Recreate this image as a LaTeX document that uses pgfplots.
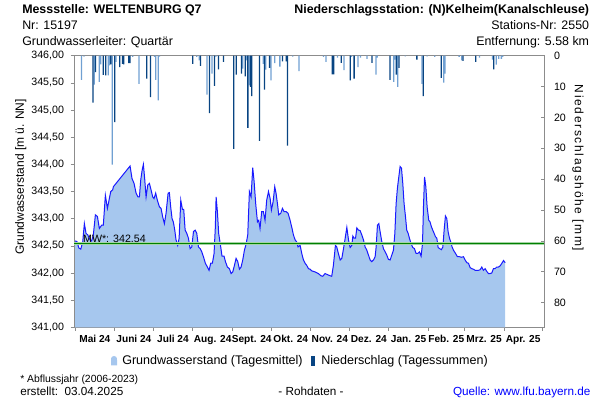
\documentclass[border=0pt]{standalone}
\usepackage{pgfplots}
\usepackage{pgfplotstable}
\pgfplotsset{compat=1.18}
\usepackage{fontspec}
\setmainfont{Liberation Sans}
\definecolor{areacol}{RGB}{166,199,238}
\definecolor{linecol}{RGB}{25,25,255}
\definecolor{darkbar}{RGB}{8,68,130}
\definecolor{lightbar}{RGB}{112,160,210}
\definecolor{axgray}{RGB}{140,140,140}
\definecolor{mwgreen}{RGB}{0,128,0}
\definecolor{mwhalo}{RGB}{165,212,165}
\definecolor{linkblue}{RGB}{0,0,255}

\pgfplotstableread{
day gw
0 342.59
1.5 342.58
3 342.46
4.5 342.44
6 342.57
7.3 342.91
8.6 342.73
10 342.70
11.7 342.61
13 342.59
14.3 342.70
15.9 343.07
17.5 343.04
19 342.82
20.8 342.88
22.1 342.88
23.7 343.43
25.3 343.19
26.8 343.37
27.9 343.50
29.4 343.53
30 343.59
43 343.97
44.5 343.74
46.1 343.65
47.7 343.47
49.2 343.40
50.3 343.40
51.3 343.71
52.4 343.89
53.4 344.00
54.4 343.74
55.5 343.40
56.8 343.62
58.1 343.65
59.4 343.53
60.7 343.40
61.7 343.37
63 343.47
64.3 343.34
65.9 343.22
67.2 343.19
68.5 343.03
69.8 342.91
71.1 343.10
72.7 343.47
73.7 343.48
74.7 343.22
75.8 343.00
76.8 342.94
77.9 342.79
78.9 342.61
80.2 342.51
81.3 342.64
82.6 343.34
83.9 343.17
84.9 343.17
86 342.79
87.3 342.73
88.6 342.64
89.9 342.45
91.2 342.48
92.5 342.76
93.8 342.79
95.1 342.73
96.4 342.48
97.7 342.45
99 342.39
100.3 342.30
101.8 342.18
103.4 342.11
104.7 342.05
106 342.18
107.3 342.18
108.6 342.36
109.6 342.85
110.2 343.40
111.2 343.13
112.2 342.73
113.8 342.48
114.8 342.31
116.4 342.31
117.5 342.21
119 342.11
120.6 342.08
121.9 341.99
123.2 342.02
124.5 342.14
125.8 342.27
127.1 342.21
128.4 342.07
129.7 342.11
131 342.24
132.3 342.42
133.6 342.53
134.9 342.70
136.2 343.50
137.5 343.40
138.8 343.94
139.9 343.68
141.1 343.28
142.5 342.94
143.5 342.97
144.5 342.82
145.8 343.13
147.1 343.13
148.4 342.97
149.7 343.34
151.1 343.50
152.4 343.37
153.4 343.16
154.7 343.31
156 343.59
157 343.47
158.1 343.28
159.1 343.07
160.7 343.10
162 343.19
163.3 343.13
164.9 343.13
166.4 343.10
168 342.97
169.5 342.82
170.6 342.70
171.9 342.61
173.2 342.57
174.2 342.48
175.8 342.51
177.1 342.36
178.4 342.24
179.7 342.18
181 342.14
182.3 342.08
183.6 342.07
184.9 342.04
187.5 342.02
190.1 341.99
192 341.95
193.5 341.94
195.3 341.99
197.2 341.97
199.2 341.95
200.5 341.94
201.8 342.14
203.4 342.51
204.4 342.48
205.7 342.36
207.1 342.24
208.4 342.27
209.7 342.45
211 342.64
212.3 342.84
213.6 342.61
214.9 342.47
216.2 342.51
217 342.68
218 342.64
219.1 342.64
220.1 342.83
221.4 342.79
222.7 342.78
224 342.70
225.3 342.61
226.6 342.48
227.9 342.42
229.2 342.33
230.5 342.24
231.8 342.21
233.1 342.24
234.4 342.30
235.2 342.48
236.2 342.88
237.3 342.91
238.3 342.76
239.6 342.58
240.9 342.45
242.2 342.39
243.5 342.33
244.8 342.25
246.1 342.24
247.4 342.33
248.7 342.42
249.8 342.73
250.8 343.28
251.8 343.56
252.9 343.77
253.9 343.96
255 343.93
256 343.65
257 343.28
258.1 343.04
259.1 342.79
260.2 342.73
261.2 342.64
262.5 342.54
263.8 342.47
265.1 342.45
266.4 342.36
267.7 342.36
269 342.39
270.3 342.31
271.4 342.54
272.2 343.25
273 343.77
274 343.59
275 343.22
276.3 342.97
277.3 342.94
278.4 342.85
279.4 342.79
280.5 342.73
281.5 342.67
282.6 342.64
283.6 342.47
284.7 342.45
286.2 342.43
287.3 342.48
288.3 342.79
289.3 343.05
290.4 343.00
291.4 342.76
292.5 342.64
293.5 342.57
294.5 342.48
295.6 342.42
297.2 342.36
298.7 342.30
300.3 342.30
301.8 342.29
303.4 342.30
304.7 342.24
306 342.19
307.3 342.18
308.6 342.10
309.9 342.08
311.2 342.07
312.5 342.05
315.1 342.05
316.4 342.06
317.7 342.11
319 342.05
320.3 342.08
321.6 342.03
322.9 341.99
324.2 341.99
325.5 342.00
326.8 342.08
328.1 342.08
329.4 342.11
330.7 342.11
332 342.13
333.4 342.18
334.7 342.23
336 342.19
}\gwdata

\pgfplotstableread{
day mm
14 15.2
16 5.3
22 6.2
24 6.4
28 2.8
31 21.5
35 3.7
37 2.6
38 2.8
42 2.4
43 2.4
56 7.4
59 13.4
92 2.6
98 3.3
105 18.6
109 9.8
112 4.4
116 2.0
124 30.2
126 6.1
130 5.8
133 6.7
135 23.4
137 10.1
138 13.1
144 27.6
148 11.0
152 3.9
162 1.8
165 1.8
166 29.1
201 6.0
202 6.0
208 2.3
215 8.0
218 7.4
232 2.3
246 7.8
251 6.1
253 3.9
267 1.3
272 13.1
286 7.2
303 1.7
313 2.0
327 4.4
}\darkbars

\pgfplotstableread{
day mm
5 7.8
7 0.3
15 9.4
19 8.5
20 2.8
26 6.4
27 3.1
29 35.3
32 2.0
45 0.4
50 9.1
62 0.4
63 7.8
65 14.5
66 0.3
95 0.4
97 1.5
103 12.6
107 5.8
110 0.3
131 4.2
134 1.5
136 9.6
147 2.6
149 4.5
153 8.0
156 2.4
160 3.5
170 0.3
175 5.0
194 0.4
196 2.0
205 0.6
210 4.7
216 0.4
221 3.7
223 0.6
228 1.0
235 6.1
236 0.6
249 8.5
250 1.3
252 10.1
258 0.2
271 9.1
275 0.2
281 0.4
288 8.7
289 5.8
300 0.4
302 1.5
316 0.6
326 1.3
329 2.9
331 1.0
333 1.0
334 0.4
}\lightbars

\begin{document}
\begin{tikzpicture}
\path[use as bounding box] (0,0) rectangle (450pt,300pt);
\begin{axis}[
  at={(55.5pt,54.5pt)}, anchor=south west,
  scale only axis, width=352.5pt, height=203.7pt,
  xmin=-0.8, xmax=366.3, ymin=341, ymax=346,
  axis line style={axgray},
  tick style={axgray, line width=0.5pt},
  major tick length=2.5pt,
  tick align=outside,
  tick pos=left,
  xtick={0,31,61,92,123,153,184,214,245,276,304,335,365},
  xticklabels={Mai 24,Juni 24,Juli 24,Aug. 24,Sept. 24,Okt. 24,Nov. 24,Dez. 24,Jan. 25,Feb. 25,Mrz. 25,Apr. 25},
  x tick label as interval,
  xticklabel style={font=\fontsize{7.6}{9}\selectfont\bfseries, black},
  ytick={341,341.5,342,342.5,343,343.5,344,344.5,345,345.5,346},
  /pgf/number format/assume math mode=true,
  yticklabel style={/pgf/number format/fixed, /pgf/number format/fixed zerofill,
    /pgf/number format/precision=2, /pgf/number format/use comma, xshift=-1.5pt,
    font=\fontsize{8}{9.6}\selectfont, black},
]
\addplot[fill=areacol, draw=none, mark=none] table[x=day,y=gw]{\gwdata} \closedcycle;
\addplot[linecol, line width=0.75pt, mark=none] table[x=day,y=gw]{\gwdata};
\addplot[mwhalo, line width=2.2pt, mark=none] coordinates {(-1,342.54) (367,342.54)};
\addplot[mwgreen, line width=0.9pt, mark=none] coordinates {(-1,342.54) (367,342.54)};
\node[anchor=south west, inner sep=0.6pt, font=\fontsize{8}{9}\selectfont] at (axis cs:5.5,342.54) {MW*: 342.54};
\end{axis}
\begin{axis}[
  at={(55.5pt,54.5pt)}, anchor=south west,
  scale only axis, width=352.5pt, height=203.7pt,
  xmin=-0.8, xmax=366.3, ymin=0, ymax=88, y dir=reverse,
  axis x line=none, axis y line*=right,
  axis line style={axgray},
  tick style={axgray, line width=0.5pt},
  major tick length=2.5pt, tick align=inside,
  ytick={0,10,20,30,40,50,60,70,80},
  /pgf/number format/assume math mode=true,
  yticklabel style={xshift=4pt},
  tick label style={font=\fontsize{8}{9.6}\selectfont, black},
]
\addplot[ybar, bar width=1, bar shift=0pt, fill=lightbar, draw=none] table[x=day,y=mm]{\lightbars};
\addplot[ybar, bar width=1, bar shift=0pt, fill=darkbar, draw=none] table[x=day,y=mm]{\darkbars};
\end{axis}
% axis titles
\node[rotate=90, font=\fontsize{9}{10}\selectfont] at (15.5pt,167.25pt) {Grundwasserstand [m ü. NN]};
\node[rotate=-90, font=\fontsize{9}{10}\selectfont\addfontfeature{LetterSpace=14}] at (433.5pt,174pt) {Niederschlagshöhe [mm]};
% header
\begin{scope}[every node/.style={inner sep=0pt, font=\fontsize{9.3}{11}\selectfont}]
\node[anchor=base west, font=\fontsize{9.3}{11}\selectfont\bfseries] at (16.5pt,289.5pt) {Messstelle: WELTENBURG Q7};
\node[anchor=base west] at (16.5pt,277.5pt) {Nr: 15197};
\node[anchor=base west] at (16.5pt,265.5pt) {Grundwasserleiter: Quartär};
\node[anchor=base east, font=\fontsize{9.3}{11}\selectfont\bfseries] at (442pt,289.5pt) {Niederschlagsstation: (N)Kelheim(Kanalschleuse)};
\node[anchor=base east] at (442pt,277.5pt) {Stations-Nr: 2550};
\node[anchor=base east] at (442pt,265.5pt) {Entfernung: 5.58 km};
\end{scope}
% legend
\fill[areacol] (83.25pt,26pt) -- (83.25pt,30pt) .. controls (83.25pt,32.5pt) and (84.5pt,33pt) .. (85.5pt,33pt) .. controls (86.5pt,33pt) and (87.75pt,32.5pt) .. (87.75pt,30pt) -- (87.75pt,26pt) -- cycle;
\node[anchor=base west, inner sep=0pt, font=\fontsize{9.4}{11}\selectfont] at (91.5pt,26.6pt) {Grundwasserstand (Tagesmittel)};
\fill[darkbar] (233.25pt,25.5pt) rectangle (236.5pt,33pt);
\node[anchor=base west, inner sep=0pt, font=\fontsize{9.4}{11}\selectfont] at (240.75pt,26.6pt) {Niederschlag (Tagessummen)};
% footer
\node[anchor=base west, inner sep=0pt, font=\fontsize{7.8}{9}\selectfont] at (15pt,13pt) {* Abflussjahr (2006-2023)};
\node[anchor=base west, inner sep=0pt, font=\fontsize{8.8}{10}\selectfont] at (15pt,3pt) {erstellt:\ \ 03.04.2025};
\node[anchor=base, inner sep=0pt, font=\fontsize{8.8}{10}\selectfont] at (233.25pt,3pt) {- Rohdaten -};
\node[anchor=base east, inner sep=0pt, font=\fontsize{8.8}{10}\selectfont, text=linkblue] at (443pt,3pt) {Quelle: www.lfu.bayern.de};
\end{tikzpicture}
\end{document}
